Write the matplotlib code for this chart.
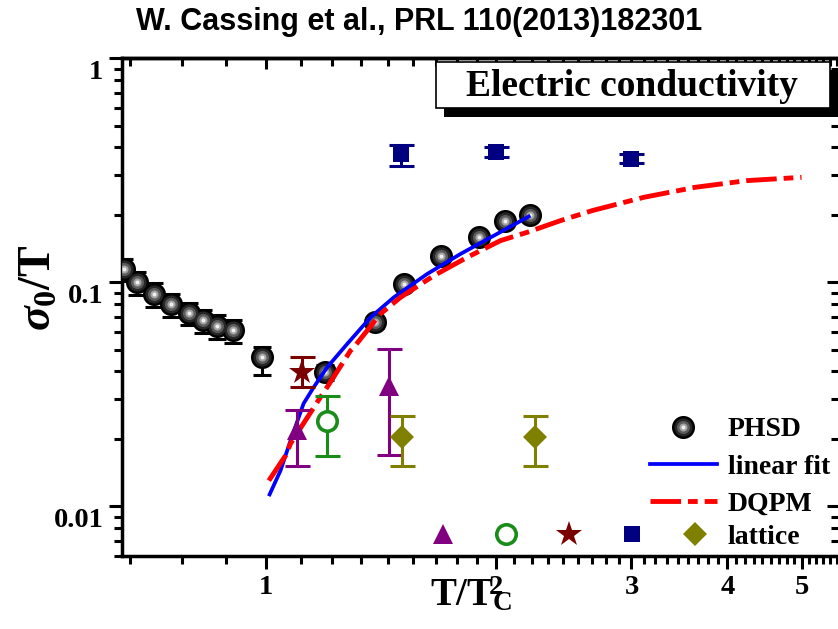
import matplotlib
matplotlib.use('Agg')
import matplotlib.pyplot as plt
import numpy as np
from matplotlib.lines import Line2D
from matplotlib.legend_handler import HandlerTuple
from matplotlib.patches import Rectangle
import matplotlib.patheffects as pe
import matplotlib.transforms as mtransforms
from matplotlib.ticker import FixedLocator, FixedFormatter, NullFormatter, LogLocator

# ---------------- data ----------------
phsd_T = [0.654, 0.679, 0.715, 0.754, 0.795, 0.829, 0.865, 0.908, 0.990,
          1.197, 1.388, 1.515, 1.696, 1.897, 2.051, 2.211]
phsd_s = [0.1148, 0.100, 0.0888, 0.0801, 0.0732, 0.0680, 0.0641, 0.0613, 0.0466,
          0.0396, 0.0663, 0.0984, 0.1316, 0.1588, 0.1886, 0.2005]
phsd_lo = [0.013, 0.012, 0.011, 0.010, 0.009, 0.0085, 0.008, 0.0075, 0.0082,
           0.003, 0.004, 0.005, 0.006, 0.007, 0.008, 0.008]
phsd_hi = [0.012, 0.011, 0.010, 0.009, 0.008, 0.0075, 0.007, 0.0065, 0.005,
           0.003, 0.004, 0.005, 0.006, 0.007, 0.008, 0.008]

fit_T = [1.010, 1.046, 1.078, 1.121, 1.155, 1.203, 1.278, 1.371, 1.470,
         1.625, 1.796, 1.985, 2.215]
fit_s = [0.0111, 0.01443, 0.01965, 0.02874, 0.0339, 0.0417, 0.0531, 0.0698,
         0.0857, 0.109, 0.1339, 0.1616, 0.1985]

dqpm_T = [1.010, 1.062, 1.078, 1.179, 1.203, 1.291, 1.304, 1.412, 1.500, 1.657,
          1.832, 2.025, 2.194, 2.425, 2.667, 3.112, 3.632, 4.240, 4.998]
dqpm_s = [0.01302, 0.01684, 0.01905, 0.03066, 0.0340, 0.0496, 0.0513, 0.0723,
          0.0857, 0.107, 0.1293, 0.1535, 0.1672, 0.1886, 0.209, 0.2395, 0.2655,
          0.2844, 0.2942]

tri_T = [1.10, 1.448]
tri_s = [0.0218, 0.0346]
tri_lo = [0.0151, 0.01696]
tri_hi = [0.0270, 0.0504]

circ_T = [1.203]
circ_s = [0.0241]
circ_lo = [0.0167]
circ_hi = [0.031]

star_T = [1.116]
star_s = [0.0396]
star_lo = [0.034]
star_hi = [0.0463]

sq_T = [1.5, 2.0, 3.0]
sq_s = [0.374, 0.383, 0.356]
sq_lo = [0.332, 0.362, 0.340]
sq_hi = [0.410, 0.400, 0.372]

dia_T = [1.507, 2.249]
dia_s = [0.0203, 0.0203]
dia_lo = [0.0152, 0.0152]
dia_hi = [0.0254, 0.0254]

xtick_vals = [1, 2, 3, 4, 5]
xtick_labels = ['1', '2', '3', '4', '5']
ytick_vals = [0.01, 0.1, 1]
ytick_labels = ['0.01', '0.1', '1']

# ---------------- style ----------------
plt.rcParams['font.family'] = ['Liberation Serif', 'DejaVu Serif']
plt.rcParams['font.weight'] = 'bold'
plt.rcParams['axes.labelweight'] = 'bold'
plt.rcParams['mathtext.fontset'] = 'custom'
plt.rcParams['mathtext.rm'] = 'Liberation Serif:bold'
plt.rcParams['mathtext.it'] = 'Liberation Serif:italic:bold'
plt.rcParams['mathtext.bf'] = 'Liberation Serif:bold'
plt.rcParams['lines.scale_dashes'] = False

PURPLE = '#800080'
GREEN = '#1a8c1a'
DARKRED = '#7a0000'
NAVY = '#000080'
OLIVE = '#808000'

sphere_sizes = [16.6, 13.0, 9.4, 5.8, 2.9]
sphere_cols = ['#000000', '#262626', '#5c5c5c', '#a4a4a4', '#f0f0f0']

fig = plt.figure(figsize=(8.38, 6.29), dpi=100)
ax = fig.add_axes([122 / 838, 73 / 629, 717.4 / 838, 497.7 / 629])
ax.set_xscale('log')
ax.set_yscale('log')
ax.set_xlim(0.65, 5.6)
ax.set_ylim(0.006, 1)

# PHSD error bars and spheres
ax.errorbar(phsd_T, phsd_s, yerr=[phsd_lo, phsd_hi],
            fmt='none', ecolor='black', elinewidth=2.2, capsize=6.5, capthick=2.2, zorder=3)
for ms, c in zip(sphere_sizes, sphere_cols):
    ax.plot(phsd_T, phsd_s, ls='none', marker='o', ms=ms, color=c, mew=0, zorder=4)

# curves
dqpm_dashes = [22, 5, 7, 5]
ax.plot(fit_T, fit_s, color='#0000ff', lw=2.7, zorder=6, solid_capstyle='butt')
ax.plot(dqpm_T, dqpm_s, color='#ff0000', lw=3.5, dashes=dqpm_dashes, zorder=6)

# lattice
def lat(T, s, lo, hi, color, **kw):
    ax.errorbar(T, s, yerr=[np.subtract(s, lo), np.subtract(hi, s)], fmt='none',
                ecolor=color, elinewidth=2.2, capsize=9, capthick=2.2, zorder=7)
    ax.plot(T, s, ls='none', color=color, zorder=8, **kw)

lat(tri_T, tri_s, tri_lo, tri_hi, PURPLE, marker='^', ms=15, mew=0)
lat(circ_T, circ_s, circ_lo, circ_hi, GREEN, marker='o', ms=14, mfc='white', mec=GREEN, mew=2.6)
lat(star_T, star_s, star_lo, star_hi, DARKRED, marker='*', ms=19, mew=0)
lat(sq_T, sq_s, sq_lo, sq_hi, NAVY, marker='s', ms=12, mew=0)
lat(dia_T, dia_s, dia_lo, dia_hi, OLIVE, marker='D', ms=12.5, mew=0)

# ticks
minor_x = [n + k / 9 for n in range(0, 6) for k in range(1, 9)]
ax.xaxis.set_major_locator(FixedLocator(xtick_vals))
ax.xaxis.set_major_formatter(FixedFormatter(xtick_labels))
ax.xaxis.set_minor_locator(FixedLocator(minor_x))
ax.xaxis.set_minor_formatter(NullFormatter())
ax.yaxis.set_major_locator(FixedLocator(ytick_vals))
ax.yaxis.set_major_formatter(FixedFormatter(ytick_labels))
ax.yaxis.set_minor_locator(LogLocator(subs=np.arange(2, 10)))
ax.yaxis.set_minor_formatter(NullFormatter())
ax.tick_params(which='major', direction='out', length=9.5, width=2.2, labelsize=20.5, pad=4)
ax.tick_params(which='minor', direction='out', length=5.8, width=2.2)
for sp in ax.spines.values():
    sp.set_linewidth(2.5)

secx = ax.secondary_xaxis('top')
secx.xaxis.set_major_locator(FixedLocator(xtick_vals))
secx.xaxis.set_minor_locator(FixedLocator(minor_x))
secx.xaxis.set_major_formatter(NullFormatter())
secx.xaxis.set_minor_formatter(NullFormatter())
secx.tick_params(which='major', direction='in', length=8, width=2.2)
secx.tick_params(which='minor', direction='in', length=5.5, width=2.2)
secx.spines['top'].set_linewidth(2.5)

secy = ax.secondary_yaxis('right')
secy.yaxis.set_major_locator(FixedLocator(ytick_vals))
secy.yaxis.set_minor_locator(LogLocator(subs=np.arange(2, 10)))
secy.yaxis.set_major_formatter(NullFormatter())
secy.yaxis.set_minor_formatter(NullFormatter())
secy.tick_params(which='major', direction='in', length=9, width=2.2)
secy.tick_params(which='minor', direction='in', length=5.5, width=2.2)
secy.spines['right'].set_linewidth(2.5)

# shift y tick labels down like the original
off = mtransforms.ScaledTranslation(0, -11 / 100, fig.dpi_scale_trans)
for t in ax.yaxis.get_major_ticks():
    t.label1.set_transform(t.label1.get_transform() + off)

# labels
ax.set_xlabel(r'T/T$_\mathrm{C}$', fontsize=28, fontweight='bold')
ax.xaxis.set_label_coords(0.487, -0.042)
ax.set_ylabel(r'$\sigma_0$/T', fontsize=33, fontweight='bold')
ax.yaxis.label.set_va('center')
ax.yaxis.set_label_coords(-0.115, 0.54)

fig.text(0.5, 1 - 22 / 629, 'W. Cassing et al., PRL 110(2013)182301',
         ha='center', va='center', fontsize=22, fontweight='bold',
         family=['Liberation Sans', 'DejaVu Sans'])

# boxed title with shadow
rect = Rectangle((0.437, 0.8995), 0.55, 0.0937, transform=ax.transAxes,
                 facecolor='white', edgecolor='black', lw=1.2, zorder=20, clip_on=False,
                 path_effects=[pe.SimplePatchShadow(offset=(6, -6), shadow_rgbFace='black', alpha=1),
                               pe.Normal()])
ax.add_patch(rect)
ax.text(0.711, 0.944, 'Electric conductivity', transform=ax.transAxes, ha='center',
        va='center', fontsize=27, zorder=21)

# legends
sphere_handle = tuple(Line2D([], [], ls='none', marker='o', ms=ms, color=c, mew=0)
                      for ms, c in zip(sphere_sizes, sphere_cols))
blue_handle = Line2D([], [], color='#0000ff', lw=2.7)
red_handle = Line2D([], [], color='#ff0000', lw=3.5, dashes=dqpm_dashes)
leg1 = fig.legend([sphere_handle, blue_handle, red_handle], ['PHSD', 'linear fit', 'DQPM'],
                  handler_map={tuple: HandlerTuple(ndivide=1)}, loc='upper left',
                  bbox_to_anchor=(650 / 838, 1 - 417 / 629), frameon=False, fontsize=20,
                  handlelength=2.41, handletextpad=0.4, borderpad=0, borderaxespad=0,
                  labelspacing=0.42)

lat_handle = (Line2D([], [], ls='none', marker='^', ms=15, color=PURPLE, mew=0),
              Line2D([], [], ls='none', marker='o', ms=14, mfc='white', mec=GREEN, mew=2.6),
              Line2D([], [], ls='none', marker='*', ms=19, color=DARKRED, mew=0),
              Line2D([], [], ls='none', marker='s', ms=12, color=NAVY, mew=0),
              Line2D([], [], ls='none', marker='D', ms=12.5, color=OLIVE, mew=0))
leg2 = fig.legend([lat_handle], ['lattice'],
                  handler_map={tuple: HandlerTuple(ndivide=None, pad=0)}, loc='center left',
                  bbox_to_anchor=(411.5 / 838, 1 - 537 / 629), frameon=False, fontsize=20,
                  handlelength=11.33, handletextpad=0.05, borderpad=0, borderaxespad=0)

fig.savefig('out.png', dpi=100)
